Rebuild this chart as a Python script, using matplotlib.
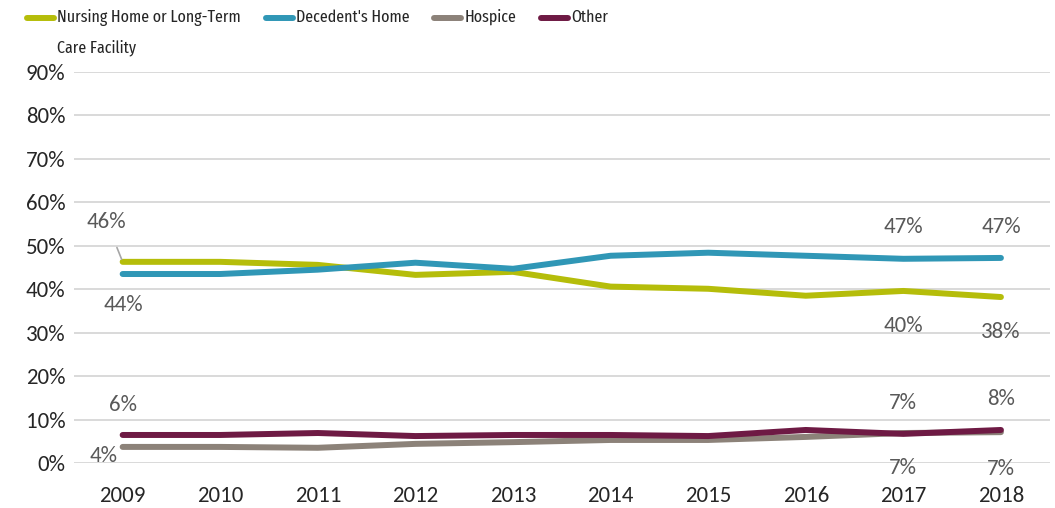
import matplotlib
matplotlib.use("Agg")
import matplotlib.pyplot as plt
from matplotlib.lines import Line2D
from matplotlib.ticker import PercentFormatter

years = ["2009", "2010", "2011", "2012", "2013", "2014", "2015", "2016", "2017", "2018"]
nursing = [46.3, 46.3, 45.6, 43.3, 44.0, 40.6, 40.1, 38.5, 39.6, 38.2]
home = [43.5, 43.5, 44.5, 46.1, 44.7, 47.7, 48.4, 47.7, 47.0, 47.2]
hospice = [3.7, 3.7, 3.5, 4.4, 4.8, 5.3, 5.3, 6.0, 6.9, 7.1]
other = [6.45, 6.45, 6.9, 6.2, 6.45, 6.45, 6.2, 7.6, 6.7, 7.6]

series_names = ["Nursing Home or Long-Term\nCare Facility", "Decedent's Home", "Hospice", "Other"]
colors = ["#B5BD0A", "#3097B6", "#8C8279", "#6E1A44"]
yticks = [0, 10, 20, 30, 40, 50, 60, 70, 80, 90]

LBL_FONT = ["Carlito", "DejaVu Sans"]
LEG_FONT = ["Fira Sans Extra Condensed", "DejaVu Sans"]

W, H = 1055, 508
fig = plt.figure(figsize=(W / 100, H / 100), dpi=100)
ax = fig.add_axes([0.070, 0.0886, 0.925, 0.7697])

x = list(range(len(years)))
all_series = [nursing, home, hospice, other]
for vals, c in zip(all_series, colors):
    ax.plot(x, vals, color=c, lw=4.3, solid_capstyle="round",
            solid_joinstyle="round", zorder=3)

ax.set_xlim(-0.5, len(years) - 0.5)
ax.set_ylim(0, 90)
ax.set_yticks(yticks)
ax.yaxis.set_major_formatter(PercentFormatter(decimals=0))
ax.set_xticks(x)
ax.set_xticklabels(years)
ax.grid(axis="y", color="#D9D9D9", lw=1.4, zorder=0)
ax.set_axisbelow(True)
for s in ax.spines.values():
    s.set_visible(False)
ax.tick_params(length=0, labelsize=16.5, labelcolor="#262626", pad=6)
ax.tick_params(axis="x", pad=16.5)
for t in ax.get_xticklabels() + ax.get_yticklabels():
    t.set_family(LBL_FONT)

def lab(series, i, dx, dy, arrow=False):
    v = series[i]
    kw = {}
    if arrow:
        kw["arrowprops"] = dict(arrowstyle="-", color="#A6A6A6", lw=1.2,
                                shrinkA=10, shrinkB=2)
    ax.annotate(f"{round(v):.0f}%", xy=(i, v), xytext=(dx, dy),
                textcoords="offset pixels", ha="center", va="center",
                fontsize=16.5, color="#595959", family=LBL_FONT, zorder=4, **kw)

lab(nursing, 0, -16, 40, arrow=True)
lab(nursing, 8, 0, -35)
lab(nursing, 9, 0, -35)
lab(home, 0, 1, -31)
lab(home, 8, 0, 32)
lab(home, 9, 0, 31)
lab(other, 0, 0, 30)
lab(other, 8, 0, 31)
lab(other, 9, 0, 31)
lab(hospice, 0, -19, -9)
lab(hospice, 8, 0, -35)
lab(hospice, 9, 0, -37)

# manual legend laid out left to right in pixel units
renderer = fig.canvas.get_renderer()
px = 27.0
y_line = H - 18
for name, c in zip(series_names, colors):
    fig.add_artist(Line2D([px / W, (px + 27) / W], [y_line / H, y_line / H],
                          color=c, lw=4.3, solid_capstyle="round",
                          transform=fig.transFigure))
    t = fig.text((px + 30) / W, (y_line + 9) / H, name, ha="left", va="top",
                 fontsize=12.5, color="#262626", family=LEG_FONT, linespacing=2.0)
    bb = t.get_window_extent(renderer)
    px = bb.x1 + 25

fig.savefig("out.png", dpi=100)
